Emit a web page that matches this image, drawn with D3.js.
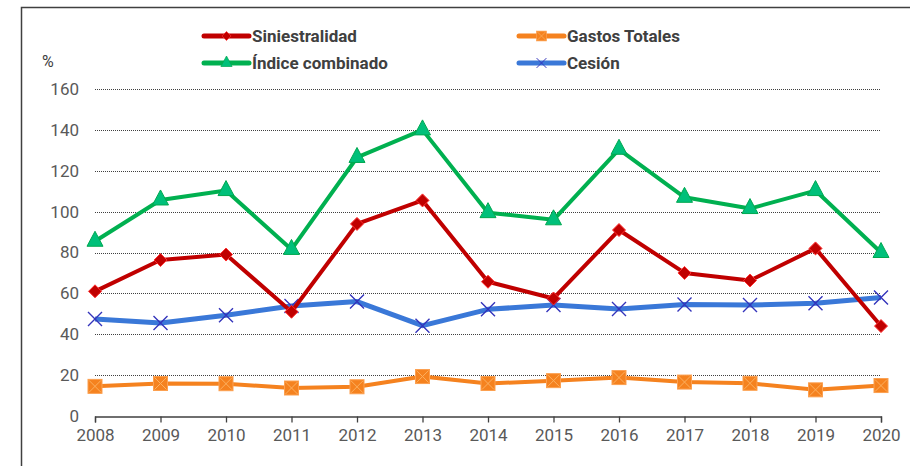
<!DOCTYPE html>
<html>
<head>
<meta charset="utf-8">
<script src="https://cdn.jsdelivr.net/npm/d3@7"></script>
<style>
  body { margin: 0; background: #fff; }
  svg text { font-family: Roboto, "Noto Sans", sans-serif; }
</style>
</head>
<body>
<div id="chart-area"></div>
<script>
// datos
const years = [2008, 2009, 2010, 2011, 2012, 2013, 2014, 2015, 2016, 2017, 2018, 2019, 2020]
const siniestralidad = [61, 76.3, 79, 51, 94, 105.5, 65.7, 57.5, 91, 70, 66.3, 82, 44]
const gastosTotales = [14.5, 15.9, 15.8, 13.7, 14.3, 19.3, 15.9, 17.3, 18.8, 16.6, 16, 12.8, 14.9]
const indiceCombinado = [85.5, 105.7, 110.3, 81.5, 126.5, 140, 99.5, 96, 130.5, 107, 101.5, 110.3, 80]
const cesion = [47.5, 45.5, 49.3, 53.8, 56, 44.2, 52.2, 54.3, 52.4, 54.6, 54.3, 55.2, 58]
const yTicks = [0, 20, 40, 60, 80, 100, 120, 140, 160]

const series = [
  { name: "Siniestralidad", values: siniestralidad, color: "#c00000", marker: "diamond", width: 4 },
  { name: "Gastos Totales", values: gastosTotales, color: "#f5821f", marker: "square", width: 4 },
  { name: "Índice combinado", values: indiceCombinado, color: "#00b050", marker: "triangle", width: 4 },
  { name: "Cesión", values: cesion, color: "#3a78d8", marker: "cross", width: 5 }
]

const W = 910, H = 466
const MARGIN = { LEFT: 95, RIGHT: 29, TOP: 89, BOTTOM: 50 }
const WIDTH = W - MARGIN.LEFT - MARGIN.RIGHT
const HEIGHT = H - MARGIN.TOP - MARGIN.BOTTOM

const svg = d3.select("#chart-area").append("svg")
  .attr("width", W)
  .attr("height", H)

// marco
svg.append("path")
  .attr("d", `M21.5,${H} V7.5 H${W}`)
  .attr("fill", "none")
  .attr("stroke", "#404040")
  .attr("stroke-width", 1.5)

const g = svg.append("g")
  .attr("transform", `translate(${MARGIN.LEFT}, ${MARGIN.TOP})`)

const x = d3.scalePoint().domain(years).range([0, WIDTH])
const y = d3.scaleLinear().domain([0, 160]).range([HEIGHT, 0])

// grid punteada
g.append("g")
  .selectAll("line")
  .data(yTicks.filter(d => d > 0))
  .enter().append("line")
    .attr("x1", 0)
    .attr("x2", WIDTH)
    .attr("y1", d => Math.round(y(d)) + 0.5)
    .attr("y2", d => Math.round(y(d)) + 0.5)
    .attr("stroke", "#404040")
    .attr("stroke-width", 1)
    .attr("stroke-dasharray", "1,1")

// eje y (solo etiquetas)
const yAxis = g.append("g")
  .call(d3.axisLeft(y).tickValues(yTicks).tickSize(0).tickPadding(16))
yAxis.select(".domain").remove()
yAxis.selectAll("text")
  .attr("fill", "#595959")
  .style("font-size", "17px")

// eje x
const xAxis = g.append("g")
  .attr("transform", `translate(0, ${Math.round(HEIGHT) + 0.5})`)
  .call(d3.axisBottom(x).tickSize(6).tickSizeOuter(6).tickPadding(6))
xAxis.select(".domain").attr("stroke", "#404040").attr("stroke-width", 1.3)
xAxis.selectAll(".tick line").attr("stroke", "#404040").attr("stroke-width", 1.3)
xAxis.selectAll("text")
  .attr("fill", "#595959")
  .style("font-size", "17px")

svg.append("text")
  .attr("x", 42)
  .attr("y", 67)
  .attr("fill", "#404040")
  .style("font-size", "16px")
  .text("%")

// marcadores
function drawMarker(sel, s) {
  if (s.marker === "diamond") {
    sel.append("path")
      .attr("d", "M0,-6.5 L6.5,0 L0,6.5 L-6.5,0 Z")
      .attr("fill", "#c00000")
      .attr("stroke", "#ff3030")
      .attr("stroke-width", 1)
  } else if (s.marker === "square") {
    sel.append("rect")
      .attr("x", -7).attr("y", -7).attr("width", 14).attr("height", 14)
      .attr("fill", "#f5821f")
      .attr("stroke", "#fca050")
      .attr("stroke-width", 1)
    sel.append("path")
      .attr("d", "M-6,-6 L6,6 M-6,6 L6,-6")
      .attr("stroke", "#fcb060")
      .attr("stroke-width", 1)
  } else if (s.marker === "triangle") {
    sel.append("path")
      .attr("d", "M0,-10 L8,5 L-8,5 Z")
      .attr("fill", "#00c07a")
      .attr("stroke", "#00a850")
      .attr("stroke-width", 1)
  } else {
    sel.append("path")
      .attr("d", "M-7,-7 L7,7 M-7,7 L7,-7")
      .attr("stroke", "#3333bb")
      .attr("stroke-width", 1.4)
  }
}

const line = d3.line()
  .x((d, i) => x(years[i]))
  .y(d => y(d))

// orden de dibujo: gastos, cesion, siniestralidad, indice
const drawOrder = [1, 3, 0, 2]
drawOrder.forEach(k => {
  const s = series[k]
  const sg = g.append("g").attr("class", "serie")
  sg.append("path")
    .attr("d", line(s.values))
    .attr("fill", "none")
    .attr("stroke", s.color)
    .attr("stroke-width", s.width)
    .attr("stroke-linejoin", "round")
  sg.selectAll(".pt")
    .data(s.values)
    .enter().append("g")
      .attr("class", "pt")
      .attr("transform", (d, i) => `translate(${x(years[i])}, ${y(d)})`)
      .each(function () { drawMarker(d3.select(this), s) })
})

// leyenda
const legendPos = [
  { x: 204, y: 36 }, { x: 519, y: 36 },
  { x: 204, y: 63 }, { x: 519, y: 63 }
]
series.forEach((s, i) => {
  const lg = svg.append("g")
    .attr("transform", `translate(${legendPos[i].x}, ${legendPos[i].y})`)
  lg.append("line")
    .attr("x1", 0).attr("x2", 45)
    .attr("stroke", s.color)
    .attr("stroke-width", 5)
    .attr("stroke-linecap", "round")
  const m = lg.append("g").attr("transform", "translate(22.5,0) scale(0.7)")
  drawMarker(m, s)
  lg.append("text")
    .attr("x", 48)
    .attr("y", 6)
    .attr("fill", "#404040")
    .style("font-size", "17px")
    .style("font-weight", "bold")
    .text(s.name)
})
</script>
</body>
</html>
